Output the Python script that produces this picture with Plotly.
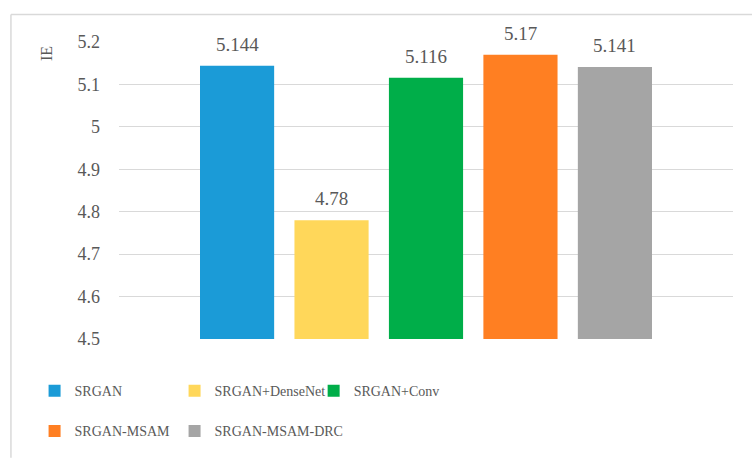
import plotly.graph_objects as go

methods = ["SRGAN", "SRGAN+DenseNet", "SRGAN+Conv", "SRGAN-MSAM", "SRGAN-MSAM-DRC"]
ie_values = [5.144, 4.78, 5.116, 5.17, 5.141]
value_labels = ["5.144", "4.78", "5.116", "5.17", "5.141"]
colors = ["#1B9BD7", "#FFD75A", "#00AE49", "#FF7F22", "#A5A5A5"]
y_ticks = [4.5, 4.6, 4.7, 4.8, 4.9, 5.0, 5.1, 5.2]
y_tick_text = ["4.5", "4.6", "4.7", "4.8", "4.9", "5", "5.1", "5.2"]

TXT = "#595959"
FONT = "'Liberation Serif', 'Times New Roman', 'DejaVu Serif', serif"

legend_ids = ["legend", "legend2", "legend3", "legend4", "legend5"]
legend_x = [-0.1375, 0.0905, 0.317, -0.1375, 0.0905]
legend_y = [-0.176, -0.176, -0.176, -0.311, -0.311]

fig = go.Figure()
for i, (m, v, c) in enumerate(zip(methods, ie_values, colors)):
    fig.add_trace(go.Bar(
        x=[m], y=[v], name=m, marker=dict(color=c, line=dict(width=0)),
        width=0.785, legend=legend_ids[i],
    ))
    fig.add_annotation(x=m, y=v, text=value_labels[i], showarrow=False,
                       yanchor="bottom", yshift=9,
                       font=dict(family=FONT, size=19, color=TXT))

fig.add_annotation(xref="paper", yref="paper", x=-0.117, y=0.96, text="IE",
                   textangle=-90, showarrow=False, xanchor="center", yanchor="middle",
                   font=dict(family=FONT, size=16, color=TXT))

# outer chart border
fig.add_shape(type="line", xref="paper", yref="paper", x0=-0.176, x1=1.1, y0=1.093, y1=1.093,
              line=dict(color="#D9D9D9", width=1.5))
fig.add_shape(type="line", xref="paper", yref="paper", x0=-0.176, x1=-0.176, y0=1.093, y1=-0.4,
              line=dict(color="#D9D9D9", width=1.5))

legend_layout = {}
for lid, lx, ly in zip(legend_ids, legend_x, legend_y):
    legend_layout[lid] = dict(x=lx, y=ly, orientation="h", xanchor="left", yanchor="middle",
                              font=dict(family=FONT, size=14, color=TXT),
                              itemwidth=30, bgcolor="rgba(0,0,0,0)")

fig.update_layout(
    width=752, height=459,
    margin=dict(l=119, r=19, t=42, b=116),
    paper_bgcolor="white", plot_bgcolor="white",
    barmode="overlay",
    showlegend=True,
    xaxis=dict(type="category", range=[-1.25, 5.25], showticklabels=False,
               showgrid=False, zeroline=False, showline=False, ticks=""),
    yaxis=dict(range=[4.5, 5.2], tickvals=y_ticks, ticktext=y_tick_text,
               showgrid=True, gridcolor="#D9D9D9", gridwidth=1.2, zeroline=False,
               showline=False, ticks="", ticklabelstandoff=18,
               tickfont=dict(family=FONT, size=18, color=TXT)),
    **legend_layout,
)

fig.write_html("out.html")
